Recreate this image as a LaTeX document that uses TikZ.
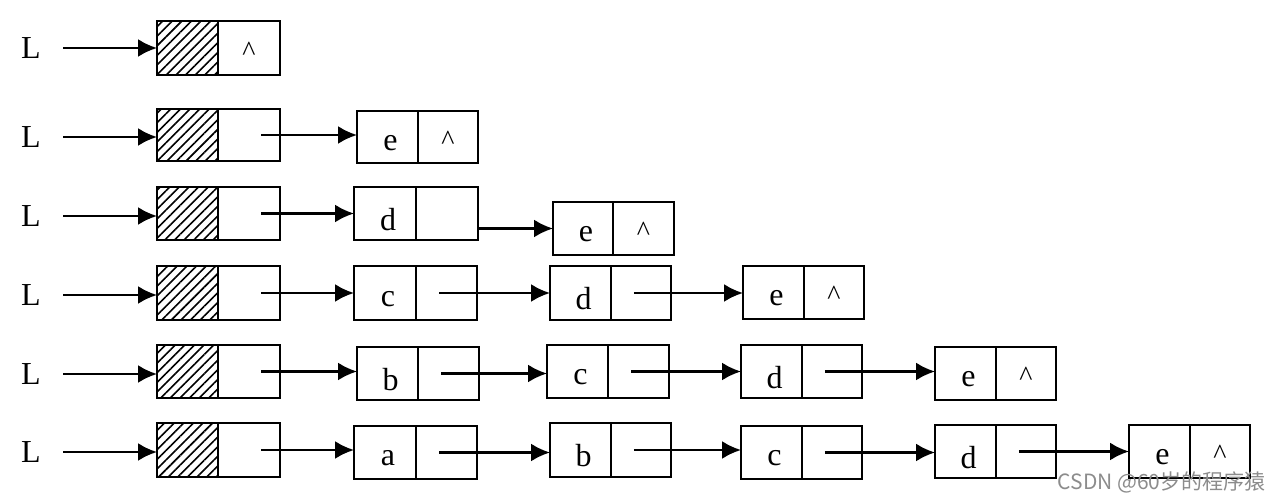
\documentclass[tikz,border=0pt]{standalone}
\usepackage{fontspec}
\setmainfont{Liberation Serif}
\newfontfamily\cjk{Noto Sans CJK SC}
\usetikzlibrary{arrows.meta,patterns.meta,calc}
\tikzset{
  cellbox/.style={draw, line width=1.3pt, inner sep=0pt, outer sep=0pt, anchor=north west},
  hatched/.style={pattern={Lines[angle=45,distance=3.4pt,line width=0.8pt]}},
  ptr/.style={line width=1.2pt, -{Latex[length=9.5pt,width=9pt]}},
  lbl/.style={font=\fontsize{16}{18}\selectfont, inner sep=0pt},
  nil/.style={font=\fontsize{14}{16}\selectfont, inner sep=0pt},
  Lbl/.style={font=\fontsize{16}{18}\selectfont, inner sep=0pt}
}
% name, xl, xd, xr, yt, yb, left text, right text
\newcommand\lcell[8]{%
  \node[cellbox, minimum width={(#3-#2)*0.5pt}, minimum height={(#6-#5)*0.5pt}] (#1d) at (#2,#5) {};
  \node[cellbox, minimum width={(#4-#3)*0.5pt}, minimum height={(#6-#5)*0.5pt}] (#1p) at (#3,#5) {};
  \node[lbl] (#1t) at ($(#1d.center)+(3,6)$) {#7};
  \node[nil] (#1n) at ($(#1p.center)+(0,3)$) {#8};
}
% head: name, yt, yb
\newcommand\lhead[3]{%
  \node[cellbox, hatched, minimum width={61*0.5pt}, minimum height={(#3-#2)*0.5pt}] (#1d) at (157,#2) {};
  \node[cellbox, minimum width={62*0.5pt}, minimum height={(#3-#2)*0.5pt}] (#1p) at (218,#2) {};
}
\newcommand\hnext[2]{\coordinate (#1s) at ($(#1p.west)!0.7!(#1p.east)$); \draw[ptr] (#1s) -- (#1s -| #2d.west);}
\newcommand\dnext[2]{\coordinate (#1s) at ($(#1p.west)!0.38!(#1p.east)$); \draw[ptr] (#1s) -- (#1s -| #2d.west);}
\begin{document}
\begin{tikzpicture}[x=0.5pt,y=-0.5pt]
\useasboundingbox (0,0) rectangle (1280,501);
% row 1
\lhead{h1}{21}{75}
\node[nil] (h1n) at ($(h1p.center)+(0,3)$) {\textasciicircum};
\node[Lbl] (L1) at (31,48) {L};
\draw[ptr] (L1.east) ++(22,0) coordinate (s1) -- (s1 -| h1d.west);
% row 2
\lhead{h2}{109}{161}
\node[Lbl] (L2) at (31,137) {L};
\draw[ptr] (L2.east) ++(22,0) coordinate (s2) -- (s2 -| h2d.west);
\lcell{r2e}{357}{418}{478}{111}{163}{e}{\textasciicircum}
\hnext{h2}{r2e}
% row 3
\lhead{h3}{187}{240}
\node[Lbl] (L3) at (31,216) {L};
\draw[ptr] (L3.east) ++(22,0) coordinate (s3) -- (s3 -| h3d.west);
\lcell{r3d}{354}{416}{478}{187}{240}{d}{}
\lcell{r3e}{553}{613}{674}{202}{255}{e}{\textasciicircum}
\hnext{h3}{r3d}
\draw[ptr] (r3dp.east |- r3ed.west) -- (r3ed.west);
% row 4
\lhead{h4}{266}{320}
\node[Lbl] (L4) at (31,295) {L};
\draw[ptr] (L4.east) ++(22,0) coordinate (s4) -- (s4 -| h4d.west);
\lcell{r4c}{354}{416}{477}{266}{320}{c}{}
\lcell{r4d}{550}{611}{671}{266}{320}{d}{}
\lcell{r4e}{743}{804}{864}{266}{319}{e}{\textasciicircum}
\hnext{h4}{r4c}
\dnext{r4c}{r4d}
\dnext{r4d}{r4e}
% row 5
\lhead{h5}{345}{398}
\node[Lbl] (L5) at (31,374) {L};
\draw[ptr] (L5.east) ++(22,0) coordinate (s5) -- (s5 -| h5d.west);
\lcell{r5b}{357}{418}{479}{347}{400}{b}{}
\lcell{r5c}{547}{608}{669}{345}{398}{c}{}
\lcell{r5d}{741}{802}{862}{345}{398}{d}{}
\lcell{r5e}{935}{996}{1056}{347}{400}{e}{\textasciicircum}
\hnext{h5}{r5b}
\dnext{r5b}{r5c}
\dnext{r5c}{r5d}
\dnext{r5d}{r5e}
% row 6
\lhead{h6}{423}{477}
\node[Lbl] (L6) at (31,452) {L};
\draw[ptr] (L6.east) ++(22,0) coordinate (s6) -- (s6 -| h6d.west);
\lcell{r6a}{354}{416}{477}{426}{479}{a}{}
\lcell{r6b}{550}{611}{671}{423}{477}{b}{}
\lcell{r6c}{741}{802}{862}{426}{479}{c}{}
\lcell{r6d}{935}{996}{1056}{425}{478}{d}{}
\lcell{r6e}{1129}{1190}{1250}{425}{478}{e}{\textasciicircum}
\hnext{h6}{r6a}
\dnext{r6a}{r6b}
\dnext{r6b}{r6c}
\dnext{r6c}{r6d}
\dnext{r6d}{r6e}
% watermark
\node[anchor=east, inner sep=0pt, text=black!45, font=\cjk\fontsize{10.5}{12}\selectfont] (wm) at (1266,482) {CSDN @60岁的程序猿};
\end{tikzpicture}
\end{document}
